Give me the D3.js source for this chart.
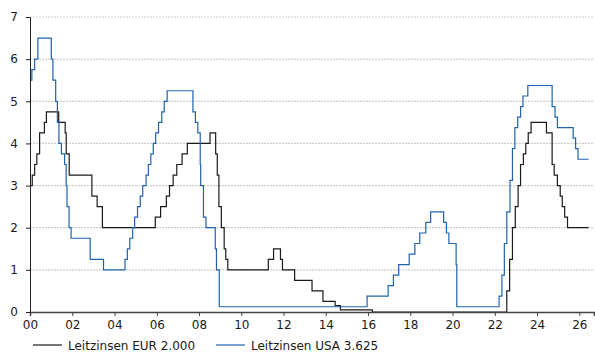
<!DOCTYPE html>
<html>
<head>
<meta charset="utf-8">
<script src="https://cdn.jsdelivr.net/npm/d3@7"></script>
<style>
  body { margin: 0; background: #fff; }
  svg { display: block; font-family: "DejaVu Sans", Verdana, sans-serif; }
</style>
</head>
<body>
<div id="chart"></div>
<script>
// change points of the policy rates (step after)
let eurDates = ['2000-01-01', '2000-02-09', '2000-03-22', '2000-04-28', '2000-06-15', '2000-09-06', '2000-10-11',
  '2001-05-11', '2001-08-31', '2001-09-18', '2001-11-09', '2002-12-06', '2003-03-07', '2003-06-06',
  '2005-12-06', '2006-03-08', '2006-06-15', '2006-08-09', '2006-10-11', '2006-12-13', '2007-03-14', '2007-06-13',
  '2008-07-09', '2008-10-15', '2008-11-12', '2008-12-10', '2009-01-21', '2009-03-11', '2009-04-08', '2009-05-13',
  '2011-04-13', '2011-07-13', '2011-11-09', '2011-12-14', '2012-07-11', '2013-05-08', '2013-11-13',
  '2014-06-11', '2014-09-10', '2016-03-16',
  '2022-07-27', '2022-09-14', '2022-11-02', '2022-12-21', '2023-02-08', '2023-03-22', '2023-05-10',
  '2023-06-21', '2023-08-02', '2023-09-20', '2024-06-12', '2024-09-18', '2024-10-23', '2024-12-18',
  '2025-02-05', '2025-03-12', '2025-04-23', '2025-06-11', '2026-06-10']

let eurRates = [3.00, 3.25, 3.50, 3.75, 4.25, 4.50, 4.75,
  4.50, 4.25, 3.75, 3.25, 2.75, 2.50, 2.00,
  2.25, 2.50, 2.75, 3.00, 3.25, 3.50, 3.75, 4.00,
  4.25, 3.75, 3.25, 2.50, 2.00, 1.50, 1.25, 1.00,
  1.25, 1.50, 1.25, 1.00, 0.75, 0.50, 0.25,
  0.15, 0.05, 0.00,
  0.50, 1.25, 2.00, 2.50, 3.00, 3.50, 3.75,
  4.00, 4.25, 4.50, 4.25, 3.50, 3.25, 3.00,
  2.75, 2.50, 2.25, 2.00, 2.00]

let usaDates = ['2000-01-01', '2000-02-02', '2000-03-21', '2000-05-16',
  '2001-01-03', '2001-01-31', '2001-03-20', '2001-04-18', '2001-05-15', '2001-06-27', '2001-08-21',
  '2001-09-17', '2001-10-02', '2001-11-06', '2001-12-11', '2002-11-06', '2003-06-25',
  '2004-06-30', '2004-08-10', '2004-09-21', '2004-11-10', '2004-12-14', '2005-02-02', '2005-03-22',
  '2005-05-03', '2005-06-30', '2005-08-09', '2005-09-20', '2005-11-01', '2005-12-13', '2006-01-31',
  '2006-03-28', '2006-05-10', '2006-06-29',
  '2007-09-18', '2007-10-31', '2007-12-11', '2008-01-22', '2008-01-30', '2008-03-18', '2008-04-30',
  '2008-10-08', '2008-10-29', '2008-12-16',
  '2015-12-16', '2016-12-14', '2017-03-15', '2017-06-14', '2017-12-13', '2018-03-21', '2018-06-13',
  '2018-09-26', '2018-12-19', '2019-07-31', '2019-09-18', '2019-10-30', '2020-03-03', '2020-03-15',
  '2022-03-16', '2022-05-04', '2022-06-15', '2022-07-27', '2022-09-21', '2022-11-02', '2022-12-14',
  '2023-02-01', '2023-03-22', '2023-05-03', '2023-07-26',
  '2024-09-18', '2024-11-07', '2024-12-18', '2025-09-17', '2025-10-29', '2025-12-10', '2026-06-10']

let usaRates = [5.50, 5.75, 6.00, 6.50,
  6.00, 5.50, 5.00, 4.50, 4.00, 3.75, 3.50,
  3.00, 2.50, 2.00, 1.75, 1.25, 1.00,
  1.25, 1.50, 1.75, 2.00, 2.25, 2.50, 2.75,
  3.00, 3.25, 3.50, 3.75, 4.00, 4.25, 4.50,
  4.75, 5.00, 5.25,
  4.75, 4.50, 4.25, 3.50, 3.00, 2.25, 2.00,
  1.50, 1.00, 0.125,
  0.375, 0.625, 0.875, 1.125, 1.375, 1.625, 1.875,
  2.125, 2.375, 2.125, 1.875, 1.625, 1.125, 0.125,
  0.375, 0.875, 1.625, 2.375, 3.125, 3.875, 4.375,
  4.625, 4.875, 5.125, 5.375,
  4.875, 4.625, 4.375, 4.125, 3.875, 3.625, 3.625]

let seriesNames = ['Leitzinsen EUR 2.000', 'Leitzinsen USA 3.625']
let seriesColors = ['#1a1a1a', '#1f63ad']

let yTicks = [0, 1, 2, 3, 4, 5, 6, 7]
let xTickYears = [2000, 2002, 2004, 2006, 2008, 2010, 2012, 2014, 2016, 2018, 2020, 2022, 2024, 2026]

let width = 595
let height = 352
let margin = { top: 17, right: 1, bottom: 40, left: 30 }

let parse = d3.timeParse('%Y-%m-%d')

function toPoints (dates, rates) {
  return dates.map(function (d, i) { return { date: parse(d), value: rates[i] } })
}

let series = [toPoints(eurDates, eurRates), toPoints(usaDates, usaRates)]

let svg = d3.select('#chart').append('svg')
  .attr('width', width)
  .attr('height', height)

let xScale = d3.scaleTime()
  .domain([new Date(2000, 0, 1), new Date(2026, 8, 12)])
  .range([margin.left, width - margin.right])

let yScale = d3.scaleLinear()
  .domain([0, 7])
  .range([height - margin.bottom, margin.top])

// grid lines
svg.append('g').attr('class', 'grid')
  .selectAll('line')
  .data(yTicks.filter(function (d) { return d > 0 }))
  .enter().append('line')
  .attr('x1', margin.left)
  .attr('x2', width - margin.right)
  .attr('y1', function (d) { return yScale(d) })
  .attr('y2', function (d) { return yScale(d) })
  .attr('stroke', '#cfcfcf')
  .attr('stroke-width', 1.2)
  .attr('stroke-dasharray', '2,1')

// lines
let line = d3.line()
  .curve(d3.curveStepAfter)
  .x(function (d) { return xScale(d.date) })
  .y(function (d) { return yScale(d.value) })

svg.selectAll('path.rate')
  .data(series)
  .enter().append('path')
  .attr('class', 'rate')
  .attr('fill', 'none')
  .attr('stroke', function (d, i) { return seriesColors[i] })
  .attr('stroke-width', 1.2)
  .attr('d', line)

// axes
let xAxis = d3.axisBottom(xScale)
  .tickValues(xTickYears.map(function (y) { return new Date(y, 0, 1) }))
  .tickFormat(d3.timeFormat('%y'))
  .tickSize(4)
  .tickPadding(4)

let yAxis = d3.axisLeft(yScale)
  .tickValues(yTicks)
  .tickFormat(d3.format('d'))
  .tickSize(4)
  .tickPadding(8)

let gx = svg.append('g')
  .attr('transform', 'translate(0,' + (height - margin.bottom) + ')')
  .call(xAxis)

let gy = svg.append('g')
  .attr('transform', 'translate(' + margin.left + ',0)')
  .call(yAxis)

gx.select('.domain').attr('stroke', '#444').attr('stroke-width', 1.5)
gy.select('.domain').attr('stroke', '#222').attr('stroke-width', 1)
gx.selectAll('.tick line').attr('stroke', '#444')
gy.selectAll('.tick line').attr('stroke', '#222')
svg.selectAll('.tick text')
  .attr('fill', '#1a1a1a')
  .style('font-size', '12px')
  .style('font-family', '"DejaVu Sans", Verdana, sans-serif')

// legend
let legendX = [33, 216]
let legend = svg.append('g').attr('class', 'legend')
  .selectAll('g')
  .data(seriesNames)
  .enter().append('g')
  .attr('transform', function (d, i) { return 'translate(' + legendX[i] + ',345)' })

legend.append('line')
  .attr('x1', 0)
  .attr('x2', 29)
  .attr('y1', 0)
  .attr('y2', 0)
  .attr('stroke', function (d, i) { return seriesColors[i] })
  .attr('stroke-width', 1.2)

legend.append('text')
  .attr('x', 35)
  .attr('y', 4.5)
  .attr('fill', '#1a1a1a')
  .style('font-size', '12px')
  .text(function (d) { return d })
</script>
</body>
</html>
